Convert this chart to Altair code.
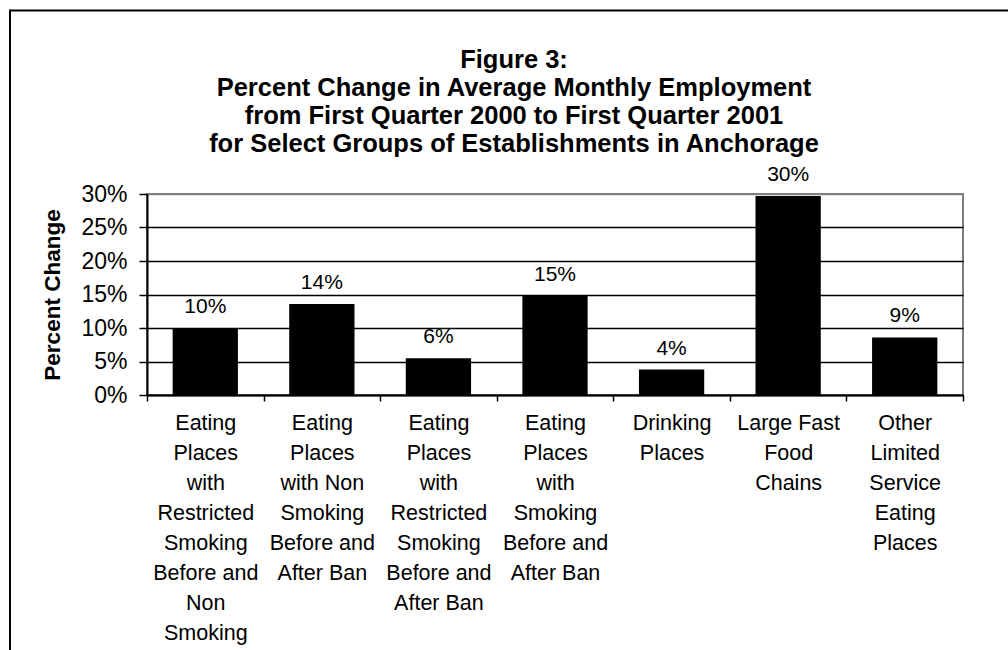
import altair as alt
import pandas as pd

# ---- data ----
categories = [
    "Eating|Places|with|Restricted|Smoking|Before and|Non|Smoking",
    "Eating|Places|with Non|Smoking|Before and|After Ban",
    "Eating|Places|with|Restricted|Smoking|Before and|After Ban",
    "Eating|Places|with|Smoking|Before and|After Ban",
    "Drinking|Places",
    "Large Fast|Food|Chains",
    "Other|Limited|Service|Eating|Places",
]
pct_change = [10.0, 13.6, 5.5, 14.8, 3.8, 29.7, 8.6]
y_ticks = [0, 5, 10, 15, 20, 25, 30]
title_lines = [
    "Figure 3:",
    "Percent Change in Average Monthly Employment",
    "from First Quarter 2000 to First Quarter 2001",
    "for Select Groups of Establishments in Anchorage",
]

df = pd.DataFrame({"cat": categories, "value": pct_change})
FONT = "Liberation Sans"

x_enc = alt.X(
    "cat:N",
    sort=categories,
    scale=alt.Scale(paddingInner=0, paddingOuter=0),
    axis=alt.Axis(
        title=None,
        labelAngle=0,
        labelExpr="split(datum.label, '|')",
        labelFont=FONT,
        labelFontSize=21.5,
        labelColor="black",
        labelLineHeight=30,
        labelPadding=11,
        labelBaseline="top",
        tickBand="extent",
        tickColor="black",
        tickSize=6,
        tickWidth=1.5,
        domainColor="black",
        domainWidth=2,
        grid=False,
        labelLimit=200,
    ),
)
y_enc = alt.Y(
    "value:Q",
    scale=alt.Scale(domain=[0, 30], nice=False),
    axis=alt.Axis(
        title="Percent Change",
        titleFont=FONT,
        titleFontSize=22.5,
        titleFontWeight="bold",
        titleColor="black",
        titlePadding=16,
        values=y_ticks,
        tickCount=7,
        labelExpr="datum.value + '%'",
        labelFont=FONT,
        labelFontSize=23,
        labelColor="black",
        labelPadding=12,
        labelOverlap=False,
        tickColor="black",
        tickSize=8,
        tickWidth=1.5,
        domainColor="black",
        domainWidth=2,
        grid=True,
        gridColor={"condition": {"test": "datum.value == 30", "value": "#808080"}, "value": "black"},
        gridWidth=1.3,
    ),
)

base = alt.Chart(df)
bars = base.mark_bar(color="black", width=alt.RelativeBandSize(0.56)).encode(x=x_enc, y=y_enc)
labels = (
    base.transform_calculate(lbl="round(datum.value) + '%'")
    .mark_text(font=FONT, fontSize=21, color="black", baseline="bottom", dy=-11)
    .encode(x=x_enc, y=y_enc, text="lbl:N")
)

one = pd.DataFrame({"k": [0]})
title_text = alt.Chart(one).mark_text(
    font=FONT, fontSize=25.5, fontWeight="bold", color="black",
    lineHeight=28, align="center", baseline="alphabetic",
).encode(x=alt.value(367), y=alt.value(-126), text=alt.value(title_lines))

frame_top = alt.Chart(one).mark_rule(color="black", strokeWidth=2).encode(
    x=alt.value(-137), x2=alt.value(900), y=alt.value(-183.5)
)
frame_left = alt.Chart(one).mark_rule(color="black", strokeWidth=2).encode(
    x=alt.value(-137), y=alt.value(-184.5), y2=alt.value(500)
)

chart = (
    alt.layer(bars, labels, title_text, frame_top, frame_left)
    .properties(
        width=816,
        height=201,
        padding={"left": 147, "top": 194, "right": 45, "bottom": 255},
        autosize=alt.AutoSizeParams(type="none"),
        background="white",
    )
    .configure_view(stroke="#808080", strokeWidth=2)
)

chart.save("out.html", embed_options={"renderer": "svg", "actions": False})
